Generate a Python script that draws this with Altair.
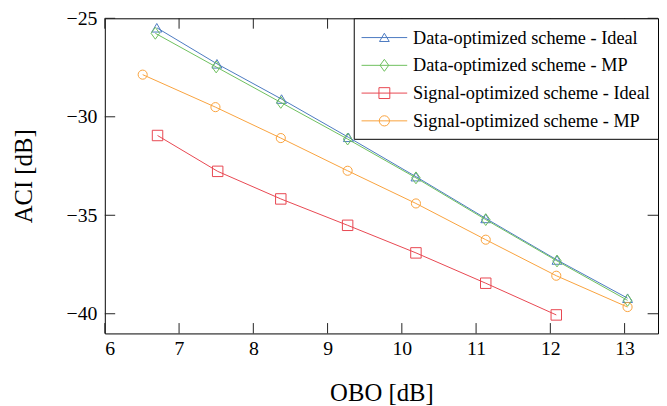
import altair as alt
import pandas as pd

series_names = [
    "Data-optimized scheme - Ideal",
    "Data-optimized scheme - MP",
    "Signal-optimized scheme - Ideal",
    "Signal-optimized scheme - MP",
]

obo_do_ideal = [6.70, 7.51, 8.38, 9.28, 10.19, 11.13, 12.09, 13.04]
aci_do_ideal = [-25.48, -27.31, -29.10, -31.04, -33.04, -35.16, -37.27, -39.21]

obo_do_mp = [6.68, 7.50, 8.37, 9.27, 10.19, 11.13, 12.09, 13.04]
aci_do_mp = [-25.76, -27.47, -29.27, -31.13, -33.10, -35.22, -37.32, -39.32]

obo_so_ideal = [6.71, 7.52, 8.37, 9.27, 10.19, 11.13, 12.08]
aci_so_ideal = [-30.95, -32.77, -34.17, -35.51, -36.91, -38.45, -40.06]

obo_so_mp = [6.51, 7.49, 8.37, 9.27, 10.19, 11.13, 12.08, 13.04]
aci_so_mp = [-27.86, -29.51, -31.08, -32.74, -34.40, -36.24, -38.07, -39.66]

x_ticks = [6, 7, 8, 9, 10, 11, 12, 13]
y_ticks = [-40, -35, -30, -25]

all_x = [obo_do_ideal, obo_do_mp, obo_so_ideal, obo_so_mp]
all_y = [aci_do_ideal, aci_do_mp, aci_so_ideal, aci_so_mp]

rows = []
for name, xs_, ys_ in zip(series_names, all_x, all_y):
    for xv, yv in zip(xs_, ys_):
        rows.append({"series": name, "obo": xv, "aci": yv})
df = pd.DataFrame(rows)

colors = ["#4a79c0", "#6dbf5c", "#e8454f", "#f9a23c"]
marker_shapes = ["triangle-up", "M0,-1L0.72,0L0,1L-0.72,0Z", "square", "circle"]
marker_sizes = [100, 144, 112, 85]
legend_paths = [
    "M-2.1,0H2.1M0,-0.4L0.45,0.36L-0.45,0.36Z",
    "M-2.1,0H2.1M0,-0.55L0.4,0L0,0.55L-0.4,0Z",
    "M-2.1,0H2.1M-0.5,-0.5H0.5V0.5H-0.5Z",
    "M-2.1,0H2.1M0.47,0A0.47,0.47,0,1,1,-0.47,0A0.47,0.47,0,1,1,0.47,0Z",
]

FONT = "Liberation Serif"
TICK = 10.5
TICK_COLOR = "#222"
W, H = 560, 319

x_dom = [6, 13.45]
y_dom = [-41, -25]

# ticks on all four edges of the frame, pointing inward (at the axis tick values)
bottom_ticks = pd.DataFrame({"tx": x_ticks, "ty": [y_dom[0]] * len(x_ticks)})
top_ticks = pd.DataFrame({"tx": x_ticks, "ty": [y_dom[1]] * len(x_ticks)})
left_ticks = pd.DataFrame({"tx": [x_dom[0]] * len(y_ticks), "ty": y_ticks})
right_ticks = pd.DataFrame({"tx": [x_dom[1]] * len(y_ticks), "ty": y_ticks})


def xs():
    return alt.Scale(domain=x_dom, nice=False, zero=False)


def ys():
    return alt.Scale(domain=y_dom, nice=False, zero=False)


x_bottom = alt.Axis(orient="bottom", values=x_ticks, ticks=False,
                    domain=False, grid=False, labelPadding=5, title="OBO [dB]",
                    titlePadding=23, format="d")
y_left = alt.Axis(orient="left", values=y_ticks, ticks=False,
                  domain=False, grid=False, labelPadding=8, title="ACI [dB]",
                  titlePadding=30, format="d")

base = alt.Chart(df)

layers = []
for i, name in enumerate(series_names):
    sub = base.transform_filter(alt.datum.series == name)
    line = sub.mark_line(strokeWidth=1, color=colors[i]).encode(
        x=alt.X("obo:Q", scale=xs(), axis=x_bottom if i == 0 else None),
        y=alt.Y("aci:Q", scale=ys(), axis=y_left if i == 0 else None),
        order="obo:Q",
    )
    pts = sub.mark_point(shape=marker_shapes[i], size=marker_sizes[i], filled=False,
                         strokeWidth=1, opacity=1, color=colors[i]).encode(
        x=alt.X("obo:Q", scale=xs(), axis=None),
        y=alt.Y("aci:Q", scale=ys(), axis=None),
    )
    layers += [line, pts]


def vticks(data, y2px):
    return alt.Chart(data).mark_rule(strokeWidth=1, color=TICK_COLOR, opacity=1).encode(
        x=alt.X("tx:Q", scale=xs(), axis=None),
        y=alt.Y("ty:Q", scale=ys(), axis=None),
        y2=alt.value(y2px),
    )


def hticks(data, x2px):
    return alt.Chart(data).mark_rule(strokeWidth=1, color=TICK_COLOR, opacity=1).encode(
        x=alt.X("tx:Q", scale=xs(), axis=None),
        x2=alt.value(x2px),
        y=alt.Y("ty:Q", scale=ys(), axis=None),
    )


tick_layers = [
    vticks(bottom_ticks, H - TICK),
    vticks(top_ticks, TICK),
    hticks(left_ticks, TICK),
    hticks(right_ticks, W - TICK),
]

leg = alt.Legend(
    title=None, orient="top-right", offset=0, padding=8,
    strokeColor="black", fillColor="white",
    symbolSize=484, symbolStrokeWidth=1, symbolOffset=11.5,
    labelOffset=17.5, rowPadding=7.1, labelFont=FONT, labelFontSize=18.5,
    labelLimit=400, labelColor="black",
)

color_scale = alt.Scale(domain=series_names, range=colors)
shape_scale = alt.Scale(domain=series_names, range=legend_paths)

# legend-only layer: its points are shifted outside the x-domain and clipped away
legend_layer = base.transform_calculate(hidden_x="datum.obo + 100").mark_point(
    filled=False, opacity=1, strokeWidth=1, clip=True).encode(
    x=alt.X("hidden_x:Q", scale=xs(), axis=None),
    y=alt.Y("aci:Q", scale=ys(), axis=None),
    color=alt.Color("series:N", scale=color_scale, legend=leg),
    shape=alt.Shape("series:N", scale=shape_scale, legend=leg),
)
layers = layers + tick_layers + [legend_layer]

chart = alt.layer(*layers).resolve_scale(x="independent", y="independent").properties(
    width=W, height=H,
    padding={"left": 98, "top": 8, "right": 1, "bottom": 70},
    autosize=alt.AutoSizeParams(type="none"),
).configure_view(stroke="black", strokeWidth=1).configure_axis(
    labelFont=FONT, labelFontSize=20, labelColor="black",
    titleFont=FONT, titleFontSize=25, titleFontWeight="normal", titleColor="black",
)

chart.save("out.html", embed_options={"renderer": "svg", "actions": False})
